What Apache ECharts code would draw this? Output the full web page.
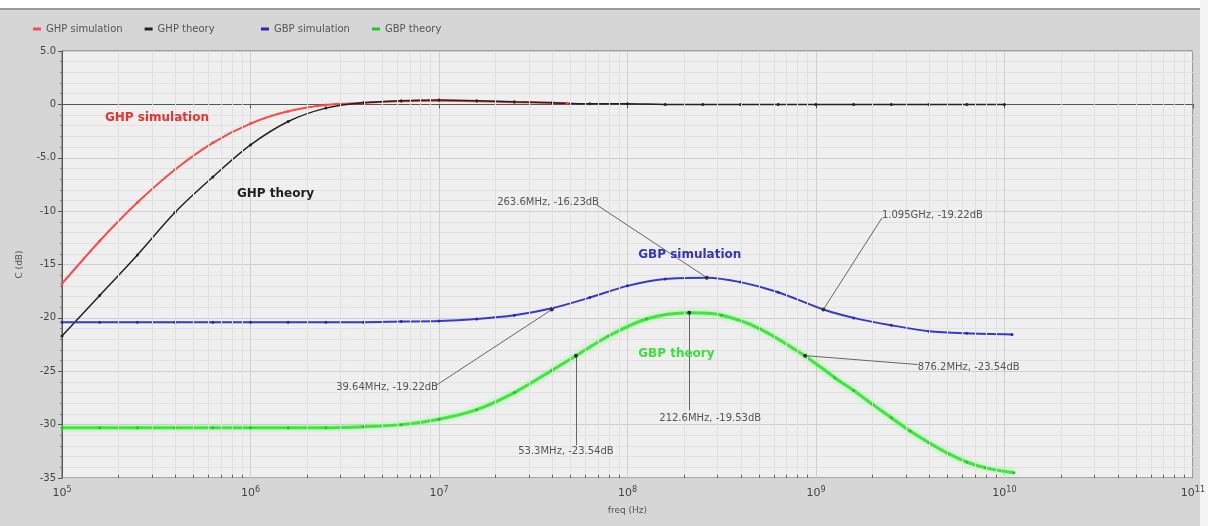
<!DOCTYPE html>
<html>
<head>
<meta charset="utf-8">
<script src="https://cdn.jsdelivr.net/npm/echarts@6/dist/echarts.min.js"></script>
<style>
  html, body { margin: 0; padding: 0; background: #fff; }
  #main { width: 1208px; height: 526px; }
</style>
</head>
<body>
<div id="main"></div>
<script>
  // frequency exponents (log10 Hz) and gain in dB
  const ghpSimExp = [5.0, 5.2, 5.4, 5.6, 5.8, 6.0, 6.2, 6.4, 6.6, 6.8, 7.0, 7.2, 7.4, 7.6, 7.68]
  const ghpSimDb = [-16.8, -12.8, -9.2, -6.1, -3.6, -1.8, -0.65, -0.05, 0.15, 0.3, 0.35, 0.3, 0.2, 0.15, 0.1]

  const ghpTheoExp = [5.0, 5.2, 5.4, 5.6, 5.8, 6.0, 6.2, 6.4, 6.6, 6.8, 7.0, 7.2, 7.4, 7.6, 7.8, 8.0, 8.2, 8.4, 8.6, 8.8, 9.0, 9.2, 9.4, 9.6, 9.8, 10.0]
  const ghpTheoDb = [-21.7, -17.9, -14.1, -10.1, -6.8, -3.8, -1.6, -0.35, 0.15, 0.35, 0.4, 0.35, 0.25, 0.15, 0.05, 0.05, 0.0, 0.0, 0.0, 0.0, 0.0, 0.0, 0.0, 0.0, 0.0, 0.0]

  const gbpSimExp = [5.0, 5.2, 5.4, 5.6, 5.8, 6.0, 6.2, 6.4, 6.6, 6.8, 7.0, 7.2, 7.4, 7.6, 7.8, 8.0, 8.2, 8.42, 8.6, 8.8, 9.04, 9.2, 9.4, 9.6, 9.8, 10.04]
  const gbpSimDb = [-20.4, -20.4, -20.4, -20.4, -20.4, -20.4, -20.4, -20.4, -20.4, -20.35, -20.3, -20.1, -19.75, -19.1, -18.1, -17.0, -16.35, -16.23, -16.65, -17.6, -19.22, -20.0, -20.7, -21.25, -21.45, -21.55]

  const gbpTheoExp = [5.0, 5.2, 5.4, 5.6, 5.8, 6.0, 6.2, 6.4, 6.6, 6.8, 7.0, 7.2, 7.4, 7.6, 7.727, 7.9, 8.1, 8.33, 8.5, 8.7, 8.94, 9.1, 9.2, 9.3, 9.4, 9.5, 9.6, 9.7, 9.8, 9.9, 10.05]
  const gbpTheoDb = [-30.3, -30.3, -30.3, -30.3, -30.3, -30.3, -30.3, -30.3, -30.2, -30.0, -29.5, -28.6, -27.0, -24.9, -23.54, -21.7, -20.1, -19.53, -19.75, -21.0, -23.54, -25.6, -26.8, -28.1, -29.35, -30.6, -31.7, -32.7, -33.5, -34.05, -34.5]

  // marker readouts
  const markFreq = [263.6e6, 1.095e9, 39.64e6, 53.3e6, 212.6e6, 876.2e6]
  const markDb = [-16.23, -19.22, -19.22, -23.54, -19.53, -23.54]
  const markText = ['263.6MHz, -16.23dB', '1.095GHz, -19.22dB', '39.64MHz, -19.22dB', '53.3MHz, -23.54dB', '212.6MHz, -19.53dB', '876.2MHz, -23.54dB']

  /** where each marker label sits (data space) and how the text hangs off it */
  const markLabelAt = [[6.89e7, -9.43], [2.24e9, -10.64], [9.64e6, -26.33], [53.3e6, -31.93], [212.6e6, -28.66], [3.47e9, -24.37]]
  const markLabelAlign = [
    { align: 'right', verticalAlign: 'bottom', offset: [2, 2] },
    { align: 'left', verticalAlign: 'bottom', offset: [0, 2] },
    { align: 'right', verticalAlign: 'top', offset: [2, -3] },
    { align: 'center', verticalAlign: 'top', offset: [-10, 1] },
    { align: 'center', verticalAlign: 'top', offset: [21, 3] },
    { align: 'left', verticalAlign: 'middle', offset: [0, 3] }
  ]

  // curve captions inside the plot
  const captionText = ['GHP simulation', 'GHP theory', 'GBP simulation', 'GBP theory']
  const captionAt = [[1.69e5, -1.31], [8.47e5, -8.4], [1.14e8, -14.1], [1.14e8, -23.34]]
  const captionColor = ['#ee3030', '#222222', '#3434c8', '#3ee03e']

  /** log minor grid + minor ticks on the bottom axis */
  const xMinorGrid = []
  const xMinorTicks = []
  for (let n = 5; n <= 10; n++) {
    for (let k = 2; k <= 9; k++) {
      const v = k * Math.pow(10, n)
      xMinorGrid.push({ xAxis: v })
      xMinorTicks.push([{ coord: [v, -35] }, { coord: [v, -34.7] }])
    }
  }

  const toPairs = (exp, db) => exp.map((e, i) => [Math.pow(10, e), db[i]])

  const chart = echarts.init(document.getElementById('main'))
  const font = 'DejaVu Sans'

  chart.setOption({
    backgroundColor: '#d6d6d6',
    animation: false,
    textStyle: { fontFamily: font },
    graphic: [
      { type: 'rect', z: -10, shape: { x: 0, y: 0, width: 1208, height: 8 }, style: { fill: '#ffffff' } },
      { type: 'rect', z: -10, shape: { x: 0, y: 8, width: 1208, height: 2 }, style: { fill: '#9a9a9a' } },
      { type: 'rect', z: -10, shape: { x: 1200, y: 0, width: 8, height: 526 }, style: { fill: '#f4f4f4' } }
    ],
    legend: [
      {
        left: 28, top: 19, icon: 'rect', itemWidth: 8, itemHeight: 3, itemGap: 22,
        textStyle: { fontSize: 10, color: '#555', fontFamily: font },
        data: ['GHP simulation', 'GHP theory']
      },
      {
        left: 256, top: 19, icon: 'rect', itemWidth: 8, itemHeight: 3, itemGap: 22,
        textStyle: { fontSize: 10, color: '#555', fontFamily: font },
        data: ['GBP simulation', 'GBP theory']
      }
    ],
    grid: {
      left: 62, right: 13, top: 51, bottom: 48,
      show: true, backgroundColor: '#efefef', borderColor: '#666', borderWidth: 1
    },
    xAxis: {
      type: 'log', logBase: 10, min: 1e5, max: 1e11,
      name: 'freq (Hz)', nameLocation: 'middle', nameGap: 28,
      nameTextStyle: { fontSize: 9, color: '#555' },
      axisLine: { lineStyle: { color: '#555' } },
      axisTick: { lineStyle: { color: '#555' }, length: 4 },
      splitLine: { show: true, lineStyle: { color: '#cfcfcf' } },
      axisLabel: {
        margin: 8,
        formatter: v => '{b|10}{s|' + Math.round(Math.log10(v)) + '}',
        rich: {
          b: { fontSize: 11, color: '#444', fontFamily: font },
          s: { fontSize: 8, color: '#444', fontFamily: font, verticalAlign: 'top', padding: [0, 0, 7, 0] }
        }
      }
    },
    yAxis: {
      type: 'value', min: -35, max: 5, interval: 5,
      name: 'C (dB)', nameLocation: 'middle', nameGap: 38, nameRotate: 90,
      nameTextStyle: { fontSize: 9, color: '#555' },
      axisLine: { show: true, lineStyle: { color: '#555' } },
      axisTick: { show: true, lineStyle: { color: '#555' }, length: 4 },
      minorTick: { show: true, splitNumber: 5, length: 2, lineStyle: { color: '#777' } },
      splitLine: { show: true, lineStyle: { color: '#cfcfcf' } },
      minorSplitLine: { show: true, lineStyle: { color: '#e2e2e2' } },
      axisLabel: {
        fontSize: 10, color: '#444', margin: 6,
        formatter: v => v === 0 ? '0' : (Math.abs(v) < 10 ? v.toFixed(1) : String(v))
      }
    },
    series: [
      {
        name: 'grid-minor', type: 'line', data: [], silent: true,
        markLine: {
          silent: true, symbol: ['none', 'none'], label: { show: false },
          lineStyle: { color: '#e0e0e0', width: 1, type: 'solid' },
          data: xMinorGrid
        }
      },
      {
        name: 'tick-minor', type: 'line', data: [], silent: true, z: 4,
        markLine: {
          silent: true, symbol: ['none', 'none'], label: { show: false },
          lineStyle: { color: '#666', width: 1, type: 'solid' },
          data: xMinorTicks
        }
      },
      {
        name: 'GHP simulation', type: 'line', smooth: 0.3,
        data: toPairs(ghpSimExp, ghpSimDb),
        symbol: 'circle', symbolSize: 3,
        itemStyle: { color: '#ff4a4a' },
        lineStyle: { color: '#ff4a4a', width: 2 }
      },
      {
        name: 'GHP theory', type: 'line', smooth: 0.3,
        data: toPairs(ghpTheoExp, ghpTheoDb),
        symbol: 'circle', symbolSize: 3,
        itemStyle: { color: '#222' },
        lineStyle: { color: '#222', width: 1.5 }
      },
      {
        name: 'GBP simulation', type: 'line', smooth: 0.3,
        data: toPairs(gbpSimExp, gbpSimDb),
        symbol: 'circle', symbolSize: 3,
        itemStyle: { color: '#2a2aa8' },
        lineStyle: { color: '#3838d0', width: 2 }
      },
      {
        name: 'GBP theory', type: 'line', smooth: 0.3,
        data: toPairs(gbpTheoExp, gbpTheoDb),
        symbol: 'circle', symbolSize: 3,
        itemStyle: { color: '#2cc02c' },
        lineStyle: { color: '#3ee63e', width: 3, shadowBlur: 4, shadowColor: 'rgba(90,255,90,0.7)' }
      },
      {
        name: 'markers', type: 'line', data: [], silent: true, z: 5,
        markLine: {
          silent: true, symbol: ['none', 'none'], label: { show: false },
          lineStyle: { color: '#666', width: 1, type: 'solid' },
          data: markFreq.map((f, i) => [{ coord: [f, markDb[i]] }, { coord: markLabelAt[i] }])
        },
        markPoint: {
          silent: true, symbol: 'circle', symbolSize: 4,
          itemStyle: { color: '#333' }, label: { show: false },
          data: markFreq.map((f, i) => ({ coord: [f, markDb[i]] }))
        }
      },
      {
        name: 'marker-text', type: 'line', data: [], silent: true, z: 6,
        markPoint: {
          silent: true, symbol: 'circle', symbolSize: 0,
          data: markText.map((t, i) => ({
            coord: markLabelAt[i],
            label: {
              show: true, position: [0, 0], formatter: t,
              fontSize: 10, color: '#555', fontFamily: font,
              align: markLabelAlign[i].align, verticalAlign: markLabelAlign[i].verticalAlign,
              offset: markLabelAlign[i].offset
            }
          })).concat(captionText.map((t, i) => ({
            coord: captionAt[i],
            label: {
              show: true, position: [0, 0], formatter: t,
              fontSize: 12, fontWeight: 'bold', color: captionColor[i], fontFamily: font,
              align: 'left', verticalAlign: 'middle'
            }
          })))
        }
      }
    ]
  })
</script>
</body>
</html>
